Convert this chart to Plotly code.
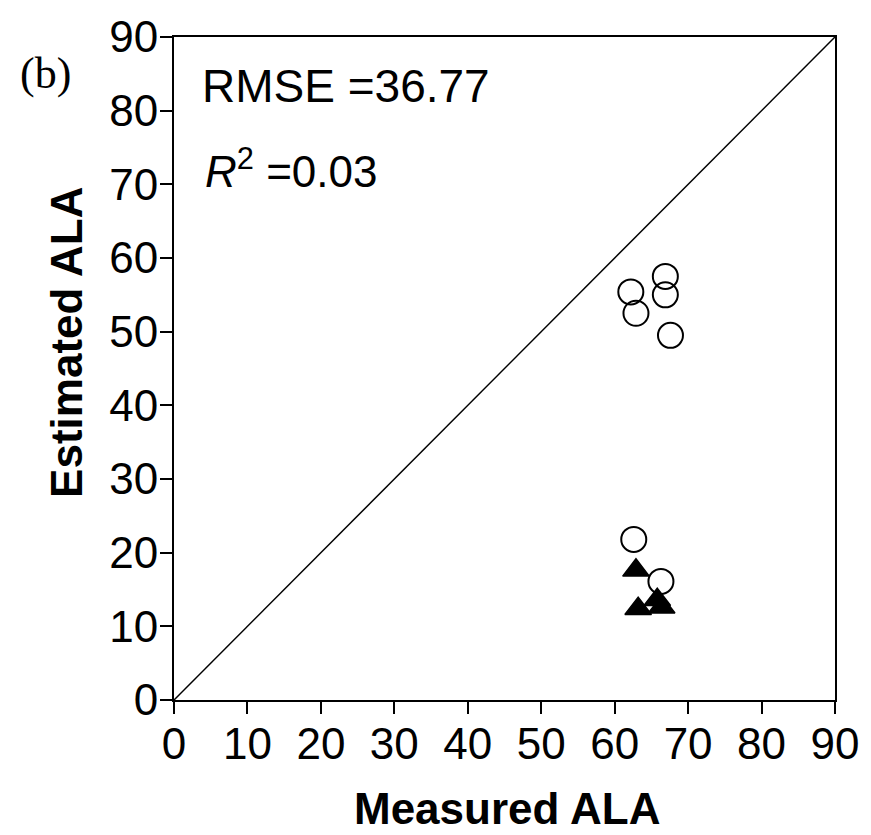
import plotly.graph_objects as go

# Data
circle_x = [62.2, 62.9, 66.9, 66.9, 67.6, 62.6, 66.3]
circle_y = [55.4, 52.5, 57.5, 55.0, 49.5, 21.8, 16.1]
tri_x = [62.9, 63.2, 65.8, 66.4]
tri_y = [17.6, 12.4, 13.6, 12.6]
line_x = [0, 90]
line_y = [0, 90]
tick_vals = [0, 10, 20, 30, 40, 50, 60, 70, 80, 90]
tick_text = [str(v) for v in tick_vals]

FONT = "Liberation Sans, Arial, sans-serif"

fig = go.Figure()
fig.add_trace(go.Scatter(x=line_x, y=line_y, mode="lines",
                         line=dict(color="black", width=1.5), showlegend=False,
                         hoverinfo="skip"))
fig.add_trace(go.Scatter(x=circle_x, y=circle_y, mode="markers",
                         marker=dict(symbol="circle-open", size=25, color="black",
                                     line=dict(width=2, color="black")),
                         showlegend=False))
fig.add_trace(go.Scatter(x=tri_x, y=tri_y, mode="markers",
                         marker=dict(symbol="triangle-up", size=23, color="black",
                                     line=dict(width=1.5, color="black")),
                         showlegend=False))

axis_common = dict(range=[0, 90], tickvals=tick_vals, ticktext=tick_text,
                   ticks="outside", ticklen=12, tickwidth=2, tickcolor="black",
                   showline=True, linewidth=2, linecolor="black", mirror=True,
                   showgrid=False, zeroline=False,
                   tickfont=dict(family=FONT, size=44, color="black"))

fig.update_layout(
    width=871, height=835,
    margin=dict(l=174, r=30, t=37, b=135),
    paper_bgcolor="white", plot_bgcolor="white",
    xaxis=dict(axis_common, ticklabelstandoff=-8),
    yaxis=dict(axis_common, ticklabelstandoff=-7),
    annotations=[
        dict(text="RMSE =36.77", xref="paper", yref="paper", x=0.040, y=0.926,
             xanchor="left", yanchor="middle", showarrow=False,
             font=dict(family=FONT, size=46, color="black")),
        dict(text="<i>R</i><sup>2</sup> =0.03", xref="paper", yref="paper", x=0.044, y=0.801,
             xanchor="left", yanchor="middle", showarrow=False,
             font=dict(family=FONT, size=44, color="black")),
        dict(text="(b)", xref="paper", yref="paper", x=-0.195, y=0.945,
             xanchor="center", yanchor="middle", showarrow=False,
             font=dict(family="Liberation Serif, Times New Roman, serif", size=44, color="black")),
        dict(text="<b>Measured ALA</b>", xref="paper", yref="paper", x=0.504, y=-0.164,
             xanchor="center", yanchor="middle", showarrow=False,
             font=dict(family=FONT, size=44, color="black")),
        dict(text="<b>Estimated ALA</b>", xref="paper", yref="paper", x=-0.162, y=0.540,
             xanchor="center", yanchor="middle", showarrow=False, textangle=-90,
             font=dict(family=FONT, size=44, color="black")),
    ],
)

fig.write_html("out.html")
